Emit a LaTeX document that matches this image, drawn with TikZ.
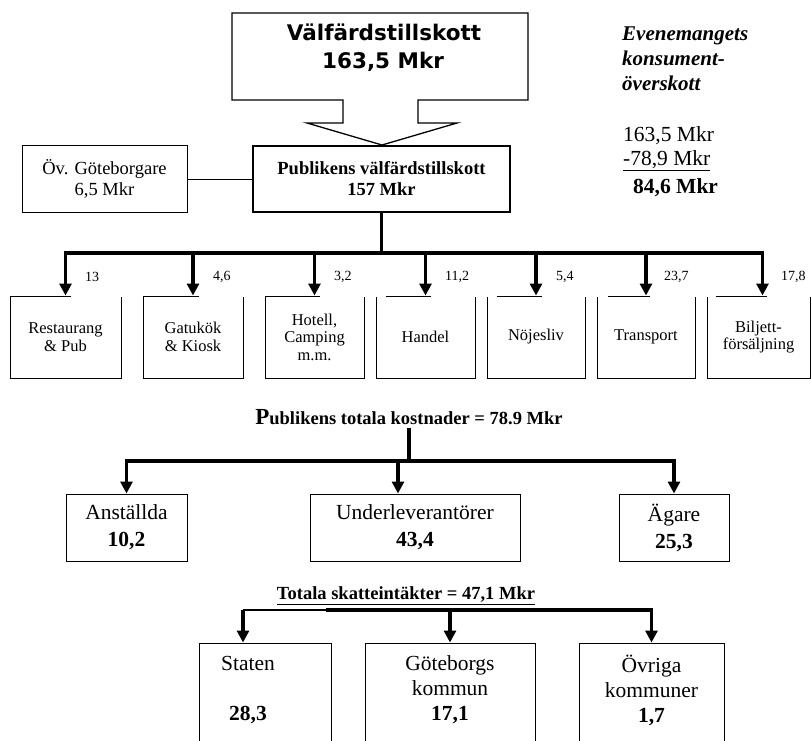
\documentclass[tikz,border=0pt]{standalone}
\usepackage{fontspec}
\setmainfont{Liberation Serif}
\newfontfamily\vfont{DejaVu Sans}
\usetikzlibrary{arrows.meta}
\tikzset{bx/.style  = {draw, line width=1pt, inner sep=0pt, align=center, font=\fontsize{16.5}{17.5}\selectfont},
         bxm/.style = {draw, line width=1pt, inner sep=0pt, align=center, font=\fontsize{18.5}{21}\selectfont},
         bxl/.style = {draw, line width=1pt, inner sep=0pt, align=center, font=\fontsize{21.5}{27}\selectfont},
         val/.style = {fill=white, anchor=north west, minimum height=40pt, text width=38pt, inner xsep=14pt,
                       inner ysep=0pt, align=left, font=\fontsize{14}{16}\selectfont},
         bus/.style = {line width=3.5pt},
         tx/.style  = {anchor=base west, inner sep=0pt}}

\begin{document}
\begin{tikzpicture}[x=1pt, y=-1pt, >={Triangle[width=12pt,length=12pt]}]
    \useasboundingbox (0,0) rectangle (811,740);
    \clip (0,0) rectangle (811,740);
    \draw[line width=1.3pt] (232,13) -- (528,13) -- (528,100) -- (418,100) -- (418,123) -- (457,123)
        -- (382,145) -- (307,123) -- (343,123) -- (343,100) -- (232,100) -- cycle;
    \node[anchor=base, inner sep=0pt, font=\vfont\bfseries\fontsize{21.5}{28}\selectfont] (w1) at (384,40) {Välfärdstillskott};
    \node[anchor=base, inner sep=0pt, font=\vfont\bfseries\fontsize{21.5}{28}\selectfont] (w2) at (383,68) {163,5 Mkr};
    \node[tx, font=\fontsize{21}{25}\selectfont\bfseries\itshape] (e1) at (622,40) {Evenemangets};
    \node[tx, font=\fontsize{21}{25}\selectfont\bfseries\itshape] (e2) at (622,65) {konsument-};
    \node[tx, font=\fontsize{21}{25}\selectfont\bfseries\itshape] (e3) at (622,90) {överskott};
    \node[tx, font=\fontsize{21.5}{25}\selectfont] (k1) at (623,141) {163,5 Mkr};
    \node[tx, font=\fontsize{21.5}{25}\selectfont] (k2) at (623,165) {\underline{-78,9 Mkr}};
    \node[tx, font=\fontsize{21.5}{25}\selectfont] (k3) at (633,193) {\textbf{84,6 Mkr}};

    \node[bxm, line width=2pt, minimum width=257pt, minimum height=66pt, font=\bfseries\fontsize{18.5}{21}\selectfont] (pv) at (381.5,179) {Publikens välfärdstillskott\\157 Mkr};
    \node[bxm, minimum width=165pt, minimum height=67pt] (og) at (104.5,179) {Öv. Göteborgare\\6,5 Mkr};
    \draw[line width=1pt] (og) -- (pv);

    \node[bx, minimum width=111pt, minimum height=82pt] (r)  at (65.5,337)  {Restaurang\\\& Pub};
    \node[bx, minimum width=100pt, minimum height=82pt] (g)  at (193,337)   {Gatukök\\\& Kiosk};
    \node[bx, minimum width=99pt,  minimum height=82pt] (h)  at (314.5,337) {Hotell,\\Camping\\m.m.};
    \node[bx, minimum width=99pt,  minimum height=82pt] (ha) at (425.5,337) {Handel};
    \node[bx, minimum width=98pt,  minimum height=82pt] (n)  at (536,337)   {Nöjesliv};
    \node[bx, minimum width=98pt,  minimum height=82pt] (t)  at (646,337)   {Transport};
    \node[bx, minimum width=103pt, minimum height=82pt] (b)  at (758.5,337) {Biljett-\\försäljning};
    \node[val] (vr)  at (71,256.5)  {13};
    \node[val] (vg)  at (199,256.5) {4,6};
    \node[val] (vh)  at (320,256.5) {3,2};
    \node[val] (vha) at (431,256.5) {11,2};
    \node[val] (vn)  at (542,256.5) {5,4};
    \node[val] (vt)  at (650,256.5) {23,7};
    \node[val] (vb)  at (767,256.5) {17,8};
    \coordinate (j) at (381.5,253);
    \draw[bus] (pv) -- (j);
    \draw[bus,->] (j) -| (r);
    \draw[bus,->] (j) -| (g);
    \draw[bus,->] (j) -| (h);
    \draw[bus,->] (j) -| (ha);
    \draw[bus,->] (j) -| (n);
    \draw[bus,->] (j) -| (t);
    \draw[bus,->] (j) -| ([xshift=4pt]b.north);

    \node[font=\bfseries\fontsize{18.5}{21}\selectfont] (tk) at (409,417) {{\fontsize{23}{23}\selectfont P}ublikens totala kostnader = 78.9 Mkr};
    \node[bxl, minimum width=121pt, minimum height=67pt] (an) at (126.5,527.5) {Anställda\\\textbf{10,2}};
    \node[bxl, minimum width=210pt, minimum height=67pt] (ul) at (415,527.5)   {Underleverantörer\\\textbf{43,4}};
    \node[bxl, minimum width=110pt, minimum height=67pt] (ag) at (674,527.5)   {Ägare\\\textbf{25,3}};
    \coordinate (k) at (409,461);
    \draw[bus] (tk) -- (k);
    \draw[bus,->] (k) -| (an);
    \draw[bus,->] (k) -| ([xshift=-17pt]ul.north);
    \draw[bus,->] (k) -| (ag);

    \node[font=\bfseries\fontsize{18.5}{21}\selectfont] (sk) at (406,596) {\underline{Totala skatteintäkter = 47,1 Mkr}};
    \node[draw, line width=1pt, minimum width=132pt, minimum height=117pt] (st) at (265,701.5) {};
    \node[draw, line width=1pt, minimum width=170pt, minimum height=117pt] (gk) at (450,701.5) {};
    \node[draw, line width=1pt, minimum width=145pt, minimum height=117pt] (ok) at (651.5,701.5) {};
    \node[align=center, font=\fontsize{21.5}{25}\selectfont] (stt) at (248,690)   {Staten\\ \\\textbf{28,3}};
    \node[align=center, font=\fontsize{21.5}{25}\selectfont] (gkt) at (450,690)   {Göteborgs\\kommun\\\textbf{17,1}};
    \node[align=center, font=\fontsize{21.5}{25}\selectfont] (okt) at (651.5,690) {Övriga\\kommuner\\\textbf{1,7}};
    \coordinate (m) at (326,610);
    \coordinate (s) at (243,610);
    \draw[line width=1.2pt] (m) -- (s);
    \draw[bus,->] (s) -- (s |- st.north);
    \draw[bus,->] (m) -| (gk);
    \draw[bus,->] (m) -| (ok);
\end{tikzpicture}
\end{document}
